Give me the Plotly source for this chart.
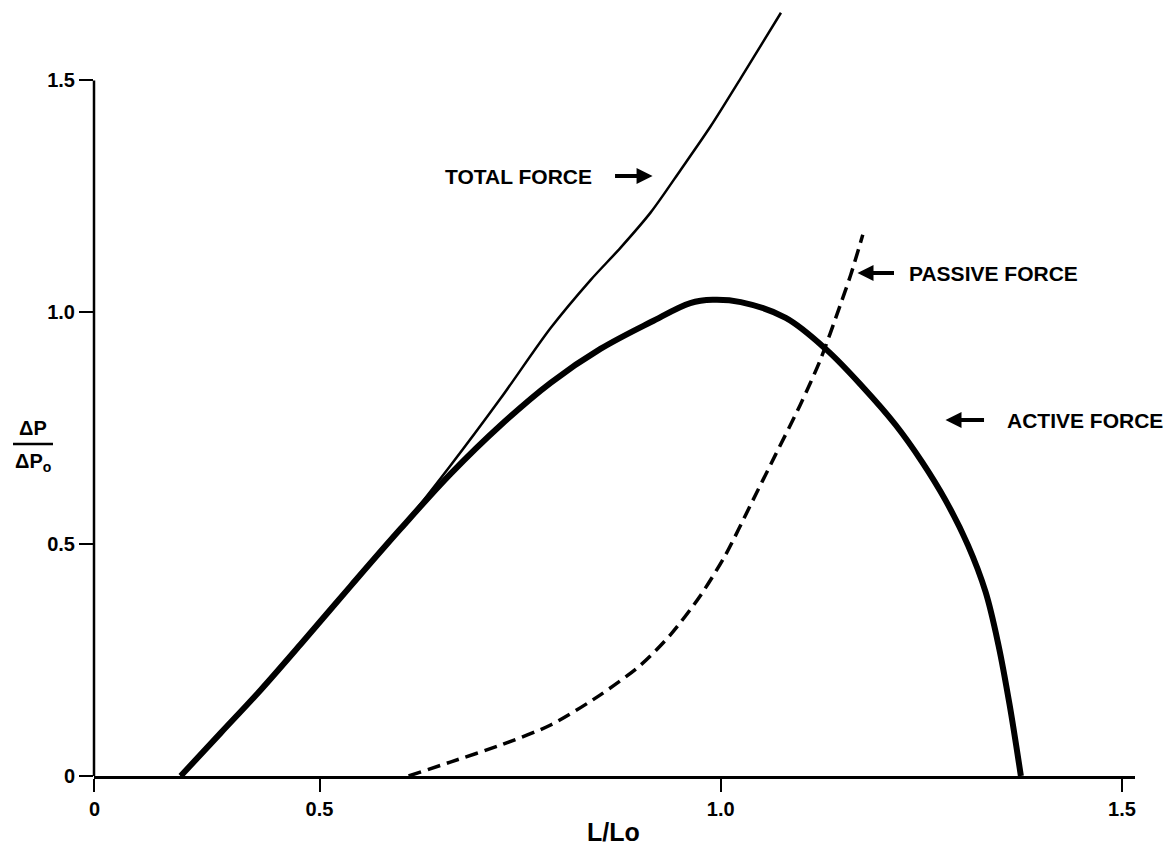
import plotly.graph_objects as go

# ---- data ----
active_x = [0.327, 0.377, 0.427, 0.476, 0.539, 0.601, 0.663, 0.726, 0.788, 0.850, 0.913,
            0.962, 0.990, 1.025, 1.081, 1.132, 1.177, 1.218, 1.251, 1.280, 1.308, 1.330,
            1.346, 1.360, 1.374]
active_y = [0.000, 0.093, 0.186, 0.283, 0.410, 0.533, 0.651, 0.757, 0.848, 0.921, 0.979,
            1.020, 1.027, 1.022, 0.988, 0.919, 0.839, 0.757, 0.677, 0.595, 0.498, 0.397,
            0.283, 0.153, 0.000]

total_x = [0.327, 0.377, 0.427, 0.476, 0.539, 0.601, 0.663, 0.726, 0.788, 0.838, 0.875,
           0.913, 0.950, 0.987, 1.025, 1.075]
total_y = [0.000, 0.093, 0.186, 0.283, 0.410, 0.533, 0.669, 0.815, 0.966, 1.070, 1.139,
           1.216, 1.307, 1.400, 1.505, 1.646]

passive_x = [0.611, 0.663, 0.726, 0.788, 0.850, 0.900, 0.937, 0.975, 1.006, 1.037,
             1.068, 1.099, 1.124, 1.149, 1.162, 1.177]
passive_y = [0.000, 0.030, 0.067, 0.110, 0.175, 0.239, 0.304, 0.390, 0.477, 0.584,
             0.692, 0.800, 0.897, 1.016, 1.081, 1.167]

x_tick_vals = [0.2196, 0.5, 1.0, 1.5]
x_tick_text = ["0", "0.5", "1.0", "1.5"]
y_tick_vals = [0, 0.5, 1.0, 1.5]
y_tick_text = ["0", "0.5", "1.0", "1.5"]

FONT = "Liberation Sans, Arial, sans-serif"

fig = go.Figure()
fig.add_trace(go.Scatter(x=total_x, y=total_y, mode="lines",
                         line=dict(color="black", width=2.5, shape="spline", smoothing=0.8),
                         showlegend=False))
fig.add_trace(go.Scatter(x=active_x, y=active_y, mode="lines",
                         line=dict(color="black", width=6, shape="spline", smoothing=1.0),
                         showlegend=False))
fig.add_trace(go.Scatter(x=passive_x, y=passive_y, mode="lines",
                         line=dict(color="black", width=3.5, dash="13px,7px",
                                   shape="spline", smoothing=0.8),
                         showlegend=False))

fig.update_layout(
    width=1172, height=847,
    margin=dict(l=94, r=37, t=5, b=71),
    paper_bgcolor="white", plot_bgcolor="white",
    font=dict(family=FONT, color="black"),
    xaxis=dict(range=[0.219, 1.5162], showgrid=False, zeroline=False,
               showline=True, linecolor="black", linewidth=2.5,
               ticks="outside", ticklen=13, tickwidth=2, tickcolor="black",
               tickvals=x_tick_vals, ticktext=x_tick_text,
               tickfont=dict(family=FONT, size=20, color="black", weight="bold")),
    yaxis=dict(range=[0, 1.6627], showgrid=False, zeroline=False,
               showline=False,
               ticks="outside", ticklen=14, tickwidth=2, tickcolor="black",
               tickvals=y_tick_vals, ticktext=y_tick_text,
               tickfont=dict(family=FONT, size=20, color="black", weight="bold")),
)

# y-axis line only up to 1.5
fig.add_shape(type="line", xref="paper", yref="y", x0=0, x1=0, y0=0, y1=1.5,
              line=dict(color="black", width=2.5))

# y-axis label as a fraction
fig.add_annotation(xref="paper", yref="paper", x=-0.0586, y=0.4514, text="<b>ΔP</b>",
                   showarrow=False, font=dict(family=FONT, size=20, color="black"),
                   xanchor="center", yanchor="middle")
fig.add_annotation(xref="paper", yref="paper", x=-0.0586, y=0.4070,
                   text="<b>ΔP<sub>o</sub></b>",
                   showarrow=False, font=dict(family=FONT, size=20, color="black"),
                   xanchor="center", yanchor="middle")
fig.add_shape(type="line", xref="paper", yref="paper", x0=-0.0778, x1=-0.0394,
              y0=0.4306, y1=0.4306, line=dict(color="black", width=2.5))

# x-axis title
fig.add_annotation(xref="paper", yref="paper", x=0.4995, y=-0.0726, text="<b>L/Lo</b>",
                   showarrow=False, font=dict(family=FONT, size=25, color="black"),
                   xanchor="center", yanchor="middle")

# curve labels
labels = [("TOTAL FORCE", 0.6533, 1.2939), ("PASSIVE FORCE", 1.2327, 1.0847),
          ("ACTIVE FORCE", 1.3548, 0.7677)]
for txt, lx, ly in labels:
    fig.add_annotation(x=lx, y=ly, text="<b>" + txt + "</b>", showarrow=False,
                       xanchor="left", yanchor="middle",
                       font=dict(family=FONT, size=21, color="black"))

# arrows
arrows = [(0.9150, 1.2939, -39), (1.1704, 1.0847, 38), (1.2801, 0.7677, 40)]
for hx, hy, dx in arrows:
    fig.add_annotation(x=hx, y=hy, text="", showarrow=True, ax=dx, ay=0,
                       arrowhead=2, arrowsize=0.8, arrowwidth=4, arrowcolor="black")

fig.write_html("out.html")
